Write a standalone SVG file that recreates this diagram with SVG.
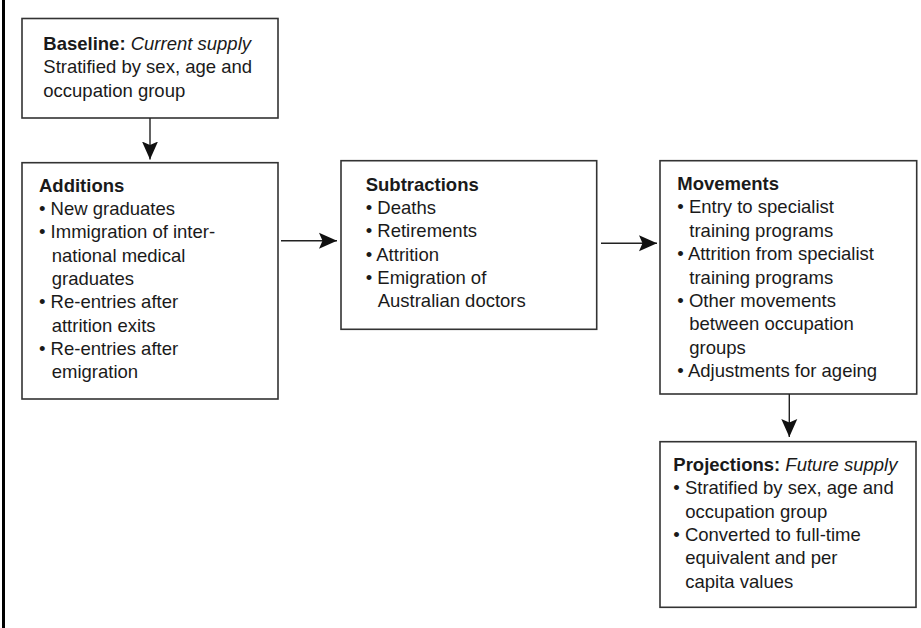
<svg xmlns="http://www.w3.org/2000/svg" width="921" height="628" viewBox="0 0 921 628">
<style>
.box{fill:#fff;stroke:#333;stroke-width:1.6}
text{font-family:"Liberation Sans",Arial,sans-serif;font-size:18.5px;fill:#1a1a1a}
.b{font-weight:bold}
.i{font-style:italic}
.conn{stroke:#222;stroke-width:1.4;fill:none}
</style>
<defs>
<marker id="ah" markerUnits="userSpaceOnUse" markerWidth="20" markerHeight="18" refX="18" refY="8.5" orient="auto">
<path d="M0,0.5 L18,8.5 L0,16.5 L3.5,8.5 Z" fill="#111"/>
</marker>
</defs>
<rect x="2" y="0" width="3" height="628" fill="#000"/>
<g id="baseline">
<rect class="box" x="22" y="18.5" width="256" height="99.5"/>
<text x="43.3" y="50"><tspan class="b">Baseline:</tspan> <tspan class="i">Current supply</tspan></text>
<text x="43.3" y="73.3">Stratified by sex, age and</text>
<text x="43.3" y="96.6">occupation group</text>
</g>
<g id="additions">
<rect class="box" x="22" y="162.7" width="256" height="236.3"/>
<text class="b" x="39" y="191.7">Additions</text>
<text x="39" y="215">• New graduates</text>
<text x="39" y="238.3">• Immigration of inter-</text>
<text x="51.7" y="261.6">national medical</text>
<text x="51.7" y="284.9">graduates</text>
<text x="39" y="308.2">• Re-entries after</text>
<text x="51.7" y="331.5">attrition exits</text>
<text x="39" y="354.8">• Re-entries after</text>
<text x="51.7" y="378.1">emigration</text>
</g>
<g id="subtractions">
<rect class="box" x="341" y="160.7" width="255.7" height="168.6"/>
<text class="b" x="365.7" y="190.7">Subtractions</text>
<text x="365.7" y="214">• Deaths</text>
<text x="365.7" y="237.3">• Retirements</text>
<text x="365.7" y="260.6">• Attrition</text>
<text x="365.7" y="283.9">• Emigration of</text>
<text x="377.7" y="307.2">Australian doctors</text>
</g>
<g id="movements">
<rect class="box" x="660" y="160.7" width="256.7" height="233.3"/>
<text class="b" x="677.3" y="190">Movements</text>
<text x="677.3" y="213.4">• Entry to specialist</text>
<text x="689.3" y="236.8">training programs</text>
<text x="677.3" y="260.2">• Attrition from specialist</text>
<text x="689.3" y="283.6">training programs</text>
<text x="677.3" y="307">• Other movements</text>
<text x="689.3" y="330.4">between occupation</text>
<text x="689.3" y="353.8">groups</text>
<text x="677.3" y="377.2">• Adjustments for ageing</text>
</g>
<g id="projections">
<rect class="box" x="660" y="441.7" width="256" height="165.6"/>
<text x="673.3" y="470.7"><tspan class="b">Projections:</tspan> <tspan class="i">Future supply</tspan></text>
<text x="673.3" y="494.3">• Stratified by sex, age and</text>
<text x="685.3" y="517.6">occupation group</text>
<text x="673.3" y="540.9">• Converted to full-time</text>
<text x="685.3" y="564.2">equivalent and per</text>
<text x="685.3" y="587.5">capita values</text>
</g>
<g id="connectors">
<line class="conn" x1="150" y1="118" x2="150" y2="159.5" marker-end="url(#ah)"/>
<line class="conn" x1="281" y1="240.7" x2="337" y2="240.7" marker-end="url(#ah)"/>
<line class="conn" x1="601" y1="243.3" x2="657" y2="243.3" marker-end="url(#ah)"/>
<line class="conn" x1="789.3" y1="394" x2="789.3" y2="437" marker-end="url(#ah)"/>
</g>
</svg>
